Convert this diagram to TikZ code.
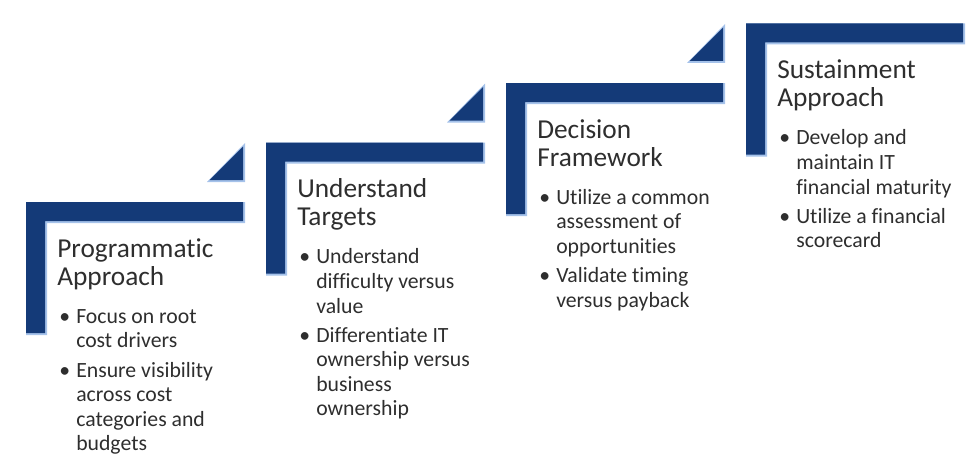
\documentclass[tikz,border=0pt]{standalone}
\usepackage{fontspec}
\setmainfont{Carlito}[Ligatures=NoCommon]
\definecolor{barnavy}{HTML}{143A78}
\definecolor{barlight}{HTML}{A5C2EA}
\definecolor{textgray}{HTML}{2E2E2E}
\newcommand\bul{\textbullet}

\begin{document}
\begin{tikzpicture}[
        x=0.75pt, y=-0.75pt,
        title/.style={anchor=north west, inner sep=0pt, text width=170pt,
                      text=textgray, font=\fontsize{20.5pt}{21pt}\selectfont},
        bullets/.style={anchor=north west, inner sep=0pt, text=textgray,
                        font=\fontsize{16.3pt}{18.4pt}\selectfont}
    ]
        \useasboundingbox (0,0) rectangle (980,453);

        % stair steps
        \foreach \i in {0,...,3} {
            \begin{scope}[shift={(240*\i,-59.5*\i)}]
                \fill[barlight] (26,202) -- (245,202) -- (245,223) -- (47,223)
                                -- (47,335) -- (26,335) -- cycle;
                \fill[barnavy] (26,202) -- (243,202) -- (243,221) -- (45,221)
                               -- (45,333) -- (26,333) -- cycle;
            \end{scope}
        }
        \foreach \i in {0,1,2} {
            \begin{scope}[shift={(240*\i,-59.5*\i)}]
                \fill[barlight] (207,182) -- (245,182) -- (245,143) -- cycle;
                \fill[barnavy] (209.5,180) -- (243,180) -- (243,146.5) -- cycle;
            \end{scope}
        }

        \node[title] (t1) at (57,237.4) {\strut Programmatic\\Approach};
        \node[bullets] (b1) at (59,306) {\begin{tabular}{@{}p{12.75pt}@{}l@{}}
            \bul & Focus on root\\ & cost drivers\\[3.4pt]
            \bul & Ensure visibility\\ & across cost\\ & categories and\\ & budgets
        \end{tabular}};

        \node[title] (t2) at (297,177.9) {\strut Understand\\Targets};
        \node[bullets] (b2) at (299,246.5) {\begin{tabular}{@{}p{12.75pt}@{}l@{}}
            \bul & Understand\\ & difficulty versus\\ & value\\[3.4pt]
            \bul & Differentiate IT\\ & ownership versus\\ & business\\ & ownership
        \end{tabular}};

        \node[title] (t3) at (537,118.4) {\strut Decision\\Framework};
        \node[bullets] (b3) at (539,187) {\begin{tabular}{@{}p{12.75pt}@{}l@{}}
            \bul & Utilize a common\\ & assessment of\\ & opportunities\\[3.4pt]
            \bul & Validate timing\\ & versus payback
        \end{tabular}};

        \node[title] (t4) at (777,58.9) {\strut Sustainment\\Approach};
        \node[bullets] (b4) at (779,127.5) {\begin{tabular}{@{}p{12.75pt}@{}l@{}}
            \bul & Develop and\\ & maintain IT\\ & financial maturity\\[3.4pt]
            \bul & Utilize a financial\\ & scorecard
        \end{tabular}};
    \end{tikzpicture}
\end{document}
